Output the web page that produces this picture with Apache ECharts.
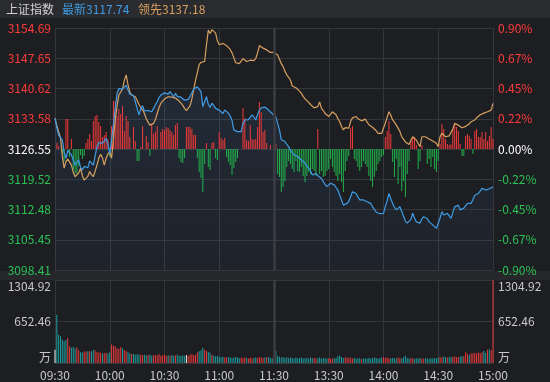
<!DOCTYPE html>
<html><head><meta charset="utf-8">
<script src="https://cdn.jsdelivr.net/npm/echarts@6/dist/echarts.min.js"></script>
<style>html,body{margin:0;padding:0;background:#1d1e22;}#c{width:550px;height:382px;}</style>
</head><body><div id="c"></div>
<script>
const indexName = '上证指数';
const latestLabel = '最新';
const leadLabel = '领先';
const prevClose = 3126.55;
const priceStep = 7.035;
const leftTicks = ['3098.41','3105.45','3112.48','3119.52','3126.55','3133.58','3140.62','3147.65','3154.69'];
const rightTicks = ['-0.90%','-0.67%','-0.45%','-0.22%','0.00%','0.22%','0.45%','0.67%','0.90%'];
const volMax = 1304.92;
const volTicks = ['万','652.46','1304.92'];
const xTickLabels = ['09:30','10:00','10:30','11:00','11:30','13:30','14:00','14:30','15:00'];
const sessionBreak = '11:30';

const priceLatest = [
3133.7,3131.5,3129.8,3129.2,3128.6,3125.8,3124.4,3126.2,3126.5,3125.2,
3124.0,3122.8,3123.5,3124.0,3122.3,3121.7,3122.5,3122.8,3122.2,3123.8,
3123.4,3122.8,3125.0,3127.1,3128.0,3128.3,3127.9,3128.4,3129.0,3127.8,
3125.5,3128.6,3132.1,3136.0,3139.5,3140.6,3141.0,3140.5,3140.8,3141.4,
3140.3,3139.3,3139.4,3139.0,3137.6,3136.0,3134.5,3136.0,3136.6,3135.4,
3135.2,3135.5,3135.3,3135.2,3136.0,3136.8,3137.6,3138.5,3139.1,3139.4,
3139.6,3139.9,3139.3,3139.9,3139.5,3138.7,3139.5,3138.8,3138.7,3138.6,
3138.3,3137.9,3137.9,3138.1,3138.8,3139.6,3140.5,3140.9,3141.0,3140.8,
3139.9,3136.4,3137.6,3138.7,3137.0,3136.2,3137.2,3136.7,3136.0,3135.9,
3135.6,3135.2,3134.8,3135.6,3136.0,3134.9,3134.2,3133.2,3131.0,3130.7,
3130.6,3130.5,3130.6,3132.5,3133.3,3133.2,3133.4,3133.7,3134.5,3134.0,
3133.3,3134.6,3135.6,3136.1,3136.4,3136.3,3136.4,3135.6,3135.2,3134.8,
3135.2,3134.0,3132.5,3131.0,3128.7,3128.5,3128.3,3127.6,3127.1,3126.3,
3126.0,3125.2,3125.0,3124.8,3124.5,3124.0,3123.6,3123.3,3122.6,3122.4,
3121.5,3120.5,3120.8,3120.9,3120.4,3120.1,3119.7,3119.3,3118.3,3117.8,
3118.0,3118.6,3119.0,3118.2,3117.6,3117.0,3115.8,3114.7,3113.5,3113.7,
3113.9,3114.4,3114.7,3116.6,3116.5,3116.2,3115.4,3114.7,3114.8,3114.7,
3114.4,3114.3,3114.0,3113.9,3113.1,3112.5,3111.9,3111.7,3111.5,3111.4,
3111.6,3113.2,3114.5,3116.2,3115.0,3113.9,3113.0,3112.4,3112.8,3113.1,
3112.0,3111.6,3109.8,3109.3,3109.2,3110.2,3111.6,3110.5,3109.6,3109.4,
3109.3,3110.3,3110.8,3110.5,3110.4,3109.6,3109.3,3108.9,3108.5,3108.1,
3107.7,3110.5,3112.0,3111.2,3110.8,3111.6,3111.0,3110.4,3111.8,3113.1,
3113.3,3113.5,3112.4,3112.0,3112.8,3113.1,3113.9,3113.8,3113.9,3114.8,
3115.8,3116.0,3116.2,3116.8,3117.4,3117.2,3117.0,3117.4,3117.3,3117.6,
3117.74
];

const priceLeading = [
3133.7,3132.0,3130.6,3129.2,3125.0,3122.1,3123.6,3124.2,3124.0,3122.8,
3121.2,3120.1,3119.8,3121.0,3122.1,3120.4,3119.3,3119.5,3120.2,3121.3,
3120.6,3120.1,3121.4,3122.8,3124.4,3125.3,3124.5,3122.8,3124.4,3125.4,
3125.9,3124.4,3129.0,3133.3,3136.5,3139.1,3139.8,3140.5,3142.5,3143.8,
3141.5,3139.8,3139.1,3139.5,3138.7,3137.9,3136.9,3136.2,3135.6,3134.8,
3133.6,3132.8,3132.1,3132.3,3132.5,3133.4,3134.8,3136.2,3137.2,3137.7,
3138.2,3138.6,3138.7,3138.8,3138.6,3138.7,3138.4,3138.0,3137.7,3137.2,
3136.7,3136.0,3135.5,3135.2,3136.6,3138.2,3140.4,3142.5,3144.3,3146.2,
3146.7,3146.8,3146.9,3150.8,3154.2,3153.4,3154.3,3154.6,3153.5,3151.7,
3150.8,3151.0,3151.1,3151.5,3150.6,3150.2,3149.7,3148.9,3147.8,3146.6,
3146.5,3146.4,3147.0,3147.6,3147.2,3146.9,3147.3,3147.2,3146.9,3147.1,
3147.6,3148.9,3150.6,3150.3,3150.0,3149.8,3149.6,3149.3,3149.0,3148.8,
3149.0,3148.7,3148.4,3147.4,3146.4,3145.7,3144.6,3143.8,3143.2,3142.6,
3141.2,3140.9,3140.8,3140.7,3140.0,3139.5,3138.8,3138.2,3137.8,3137.4,
3136.9,3136.6,3136.1,3136.2,3136.4,3137.5,3136.0,3135.5,3134.8,3134.5,
3134.1,3134.6,3135.2,3134.9,3134.5,3133.6,3132.9,3131.8,3131.0,3131.5,
3131.7,3131.4,3133.0,3133.8,3134.0,3134.1,3133.6,3133.3,3133.1,3132.9,
3133.5,3133.4,3132.2,3131.9,3131.6,3131.4,3130.8,3130.2,3130.3,3130.2,
3130.6,3132.6,3133.9,3135.2,3134.4,3133.3,3132.8,3132.1,3131.4,3130.6,
3129.4,3128.8,3128.2,3127.9,3127.6,3128.6,3129.4,3129.0,3128.6,3127.8,
3127.1,3129.4,3129.5,3129.4,3129.2,3128.9,3128.6,3128.4,3128.1,3127.9,
3127.1,3129.4,3130.2,3130.0,3129.4,3129.5,3129.6,3129.4,3131.2,3132.5,
3132.6,3132.1,3131.8,3131.5,3131.4,3131.8,3132.1,3132.4,3132.9,3133.2,
3133.3,3133.8,3134.2,3134.5,3134.7,3134.9,3135.0,3135.2,3135.2,3135.6,
3137.18
];

const strength = [
0,6,3,0,-4,-12,30,30,-8,10,
-20,-24,-25,-17,-6,-10,-7,6,10,15,
8,28,33,34,27,23,12,14,17,10,
-8,23,48,48,33,40,35,43,18,33,
28,12,0,22,8,-12,-12,2,23,0,
13,7,-7,25,15,17,23,0,17,20,
19,22,21,19,17,14,24,26,-9,-13,
-14,-9,22,22,22,20,14,14,-9,-23,
-29,-43,-15,6,-18,-21,6,7,-9,-11,
17,11,9,11,-8,-13,-16,-26,-19,-13,
-9,0,0,41,31,9,8,24,10,9,
10,22,47,37,17,19,6,0,4,0,
4,5,-25,-28,-43,-38,-32,-18,-12,-15,
-20,-23,-12,-22,-23,-18,-27,-33,-27,-23,
-25,-20,-22,-27,20,-25,-22,-28,-27,-22,
-20,-10,-18,-23,-27,-32,-25,-33,-43,-22,
-12,-7,21,23,-10,-12,-18,-22,-18,-12,
-15,-18,-27,-32,-38,-28,-22,-15,-12,-8,
-6,12,18,28,15,-13,-28,-10,-35,-18,
-42,-32,-48,-25,-12,8,12,12,4,-20,
-12,4,0,0,-15,-10,-18,-8,-20,-23,
-12,5,25,20,10,5,4,5,20,25,
22,18,5,-7,-7,13,15,13,10,-5,
18,20,12,12,17,10,17,8,13,22,
10
];

const volume = [
209,760,445,420,370,340,360,393,262,240,
250,230,245,200,170,165,180,175,190,185,
180,210,195,175,160,165,150,155,160,150,
170,290,270,260,230,225,250,230,200,190,
170,150,145,140,135,140,130,135,125,130,
120,125,130,115,120,125,120,140,115,120,
130,115,120,110,125,115,120,135,110,115,
120,110,125,115,130,140,120,125,170,185,
200,240,210,190,175,160,125,115,105,110,
95,90,100,90,85,95,85,80,85,95,
85,80,85,75,85,80,70,85,75,80,
90,80,95,85,80,90,85,95,80,75,
90,194,110,100,85,95,80,90,75,85,
80,70,85,75,80,90,70,75,80,70,
85,75,80,70,75,85,70,80,75,70,
80,65,70,75,80,110,115,95,80,85,
90,75,85,70,80,65,70,75,60,70,
75,65,80,70,75,85,80,70,75,85,
90,80,85,75,70,80,75,70,85,80,
75,90,115,80,70,75,70,65,75,70,
80,65,70,75,70,65,75,70,80,75,
85,95,90,100,95,85,90,100,95,105,
90,95,100,110,105,170,145,130,150,155,
160,150,165,155,170,190,160,210,215,200,
1304.92
];

// trading minutes: 09:30-11:30, 13:01-15:00
const times = [];
function fmt(t){const h=Math.floor(t/60),m=t%60;return (h<10?'0':'')+h+':'+(m<10?'0':'')+m;}
for (let t = 570; t <= 690; t++) times.push(fmt(t));
for (let t = 781; t <= 900; t++) times.push(fmt(t));

const toStep = p => (p - prevClose) / priceStep;
const RED = '#ff3b3b', GREEN = '#2bc255', WHITE = '#ffffff';
const GRID = '#34363b';
const FONT = '"Noto Sans CJK SC", "Noto Sans", sans-serif';
const isTick = (i, v) => xTickLabels.indexOf(v) >= 0;
const priceColor = v => { const n = Number(v); return n > 0.001 ? RED : (n < -0.001 ? GREEN : WHITE); };
const breakLine = {silent: true, symbol: 'none', label: {show: false},
  lineStyle: {type: 'solid', color: '#3b3d42', width: 2.5}, data: [{xAxis: sessionBreak}]};

const chart = echarts.init(document.getElementById('c'), null, {renderer: 'canvas'});
chart.setOption({
  animation: false,
  backgroundColor: '#1d1e22',
  textStyle: {fontFamily: FONT},
  graphic: [
    {type: 'rect', z: -1, shape: {x: 0, y: 0, width: 550, height: 18}, style: {fill: '#2a2b2f'}},
    {type: 'rect', z: -1, shape: {x: 0, y: 271, width: 550, height: 9}, style: {fill: '#26272b'}},
    {type: 'text', x: 6, y: 9, style: {text: indexName, fill: '#d2d2d2', font: '12px ' + FONT, verticalAlign: 'middle'}},
    {type: 'text', x: 62, y: 9, style: {text: latestLabel + priceLatest[priceLatest.length-1].toFixed(2), fill: '#3f9ce6', font: '12px ' + FONT, verticalAlign: 'middle'}},
    {type: 'text', x: 138, y: 9, style: {text: leadLabel + priceLeading[priceLeading.length-1].toFixed(2), fill: '#d8a060', font: '12px ' + FONT, verticalAlign: 'middle'}}
  ],
  grid: [
    {left: 55, right: 57, top: 28, height: 242},
    {left: 55, right: 57, top: 280, height: 83}
  ],
  xAxis: [
    {type: 'category', gridIndex: 0, data: times, boundaryGap: false,
     axisLine: {show: true, lineStyle: {color: GRID}}, axisTick: {show: false}, axisLabel: {show: false},
     splitLine: {show: true, interval: isTick, lineStyle: {color: GRID, width: 1}}},
    {type: 'category', gridIndex: 1, data: times, boundaryGap: false,
     axisLine: {show: true, lineStyle: {color: GRID}}, axisTick: {show: false},
     axisLabel: {show: true, interval: isTick, color: '#c8c8c8', fontSize: 12, margin: 6, fontFamily: FONT},
     splitLine: {show: true, interval: isTick, lineStyle: {color: GRID, width: 1}}}
  ],
  yAxis: [
    {type: 'value', gridIndex: 0, position: 'left', min: -4, max: 4, interval: 1,
     axisLine: {show: true, lineStyle: {color: GRID}}, axisTick: {show: false},
     axisLabel: {margin: 4, fontSize: 12, fontFamily: FONT, color: priceColor,
       formatter: v => leftTicks[Math.round(v) + 4]},
     splitLine: {show: true, lineStyle: {color: GRID, width: 1}}},
    {type: 'value', gridIndex: 0, position: 'right', min: -4, max: 4, interval: 1,
     axisLine: {show: true, lineStyle: {color: GRID}}, axisTick: {show: false},
     axisLabel: {margin: 5, fontSize: 12, fontFamily: FONT, color: priceColor,
       formatter: v => rightTicks[Math.round(v) + 4]},
     splitLine: {show: false}},
    {type: 'value', gridIndex: 0, position: 'left', min: -121, max: 121, show: false},
    {type: 'value', gridIndex: 1, position: 'left', min: 0, max: volMax, interval: volMax / 2,
     axisLine: {show: true, lineStyle: {color: GRID}}, axisTick: {show: false},
     axisLabel: {margin: 4, fontSize: 12, fontFamily: FONT, color: '#c8c8c8',
       verticalAlignMaxLabel: 'top', verticalAlignMinLabel: 'bottom',
       formatter: v => volTicks[Math.round(v / (volMax / 2))]},
     splitLine: {show: true, lineStyle: {color: GRID, width: 1}}},
    {type: 'value', gridIndex: 1, position: 'right', min: 0, max: volMax, interval: volMax / 2,
     axisLine: {show: true, lineStyle: {color: GRID}}, axisTick: {show: false},
     axisLabel: {margin: 5, fontSize: 12, fontFamily: FONT, color: '#c8c8c8',
       verticalAlignMaxLabel: 'top', verticalAlignMinLabel: 'bottom',
       formatter: v => volTicks[Math.round(v / (volMax / 2))]},
     splitLine: {show: false}}
  ],
  series: [
    {type: 'line', xAxisIndex: 0, yAxisIndex: 0, data: priceLatest.map(toStep), symbol: 'none', silent: true, z: 1,
     lineStyle: {width: 0}, areaStyle: {origin: 'start', color: new echarts.graphic.LinearGradient(0, 0, 0, 1, [
       {offset: 0, color: 'rgba(70,140,220,0.16)'}, {offset: 1, color: 'rgba(70,140,220,0.06)'}])},
     markLine: breakLine},
    {type: 'bar', xAxisIndex: 0, yAxisIndex: 2, data: strength, barWidth: 1, z: 2,
     itemStyle: {color: p => p.value >= 0 ? '#f03a3a' : '#22b24c'}},
    {type: 'line', xAxisIndex: 0, yAxisIndex: 0, data: priceLeading.map(toStep), symbol: 'none', z: 3,
     lineStyle: {width: 1.2, color: '#d8a060'}},
    {type: 'line', xAxisIndex: 0, yAxisIndex: 0, data: priceLatest.map(toStep), symbol: 'none', z: 4,
     lineStyle: {width: 1.2, color: '#3f9ce6'}},
    {type: 'bar', xAxisIndex: 1, yAxisIndex: 3, data: volume, barWidth: 1, z: 2,
     markLine: breakLine,
     itemStyle: {color: p => {
       const i = p.dataIndex;
       const d = i === 0 ? 0 : priceLatest[i] - priceLatest[i - 1];
       if (i === volume.length - 1) return '#e8393a';
       return d > 0 ? '#e8393a' : (d < 0 ? '#1e9e9e' : '#eeeeee');
     }}}
  ]
});
</script>
</body></html>
